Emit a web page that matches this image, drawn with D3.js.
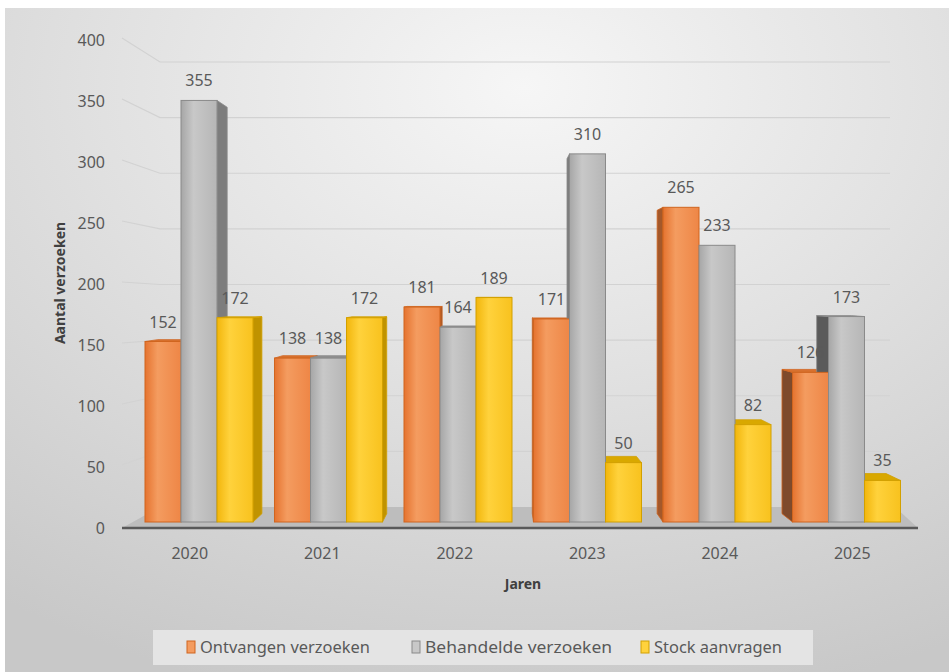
<!DOCTYPE html>
<html>
<head>
<meta charset="utf-8">
<script src="https://cdn.jsdelivr.net/npm/d3@7"></script>
<style>
  html, body { margin: 0; padding: 0; background: #fff; }
  svg { display: block; }
</style>
</head>
<body>
<svg id="area" width="949" height="672"></svg>
<script>
const years = ['2020', '2021', '2022', '2023', '2024', '2025'];
const seriesNames = ['Ontvangen verzoeken', 'Behandelde verzoeken', 'Stock aanvragen'];
const ontvangen = [152, 138, 181, 171, 265, 126];
const behandeld = [355, 138, 164, 310, 233, 173];
const stock = [172, 172, 189, 50, 82, 35];
const yTicks = [0, 50, 100, 150, 200, 250, 300, 350, 400];

const values = [ontvangen, behandeld, stock];

function drawChart() {
  const svg = d3.select('#area');
  const font = '"Noto Sans", "Open Sans", sans-serif';
  const textColor = '#595959';

  // scales: labels sit on the front edge, grid on the back wall, bars in between
  const yLabel = d3.scaleLinear([0, 400], [528, 40]);
  const yBack = d3.scaleLinear([0, 400], [507, 62]);
  const yBar = d3.scaleLinear([0, 400], [522, 47]);
  const x = d3.scaleBand(years, [134.25, 911.25]).paddingInner(0.166).paddingOuter(0.083);
  const xSub = d3.scaleBand(d3.range(3), [0, x.bandwidth()]);
  const xLabel = d3.scaleBand(years, [123.5, 918.5]);

  // perspective helper
  const vp = [500, 290];
  const depth = 0.036;
  const proj = (px, py) => [px + depth * (vp[0] - px), py + depth * (vp[1] - py)];

  const styles = [
    { stops: ['#E5732F', '#F49C60', '#EE8646'], stroke: '#D0651F', side: '#A4582A', sideFar: '#7E4A2C', top: '#D8712F' },
    { stops: ['#A6A6A6', '#C8C8C8', '#B6B6B6'], stroke: '#8A8A8A', side: '#7D7D7D', sideFar: '#5A5A5A', top: '#8F8F8F' },
    { stops: ['#F2B60C', '#FFD23C', '#F8C21E'], stroke: '#D2A000', side: '#C09300', sideFar: '#A88200', top: '#D9A800' },
  ];

  const defs = svg.append('defs');
  const bg = defs.append('radialGradient')
    .attr('id', 'bg')
    .attr('cx', '55%').attr('cy', '12%').attr('r', '95%');
  bg.append('stop').attr('offset', '0%').attr('stop-color', '#f6f6f6');
  bg.append('stop').attr('offset', '45%').attr('stop-color', '#e2e2e2');
  bg.append('stop').attr('offset', '100%').attr('stop-color', '#c8c8c8');

  styles.forEach((s, i) => {
    const g = defs.append('linearGradient').attr('id', `front${i}`);
    g.append('stop').attr('offset', '0%').attr('stop-color', s.stops[0]);
    g.append('stop').attr('offset', '35%').attr('stop-color', s.stops[1]);
    g.append('stop').attr('offset', '100%').attr('stop-color', s.stops[2]);
  });

  // background
  svg.append('rect')
    .attr('x', 5).attr('y', 8)
    .attr('width', 944).attr('height', 664)
    .attr('fill', 'url(#bg)');

  // floor
  const floorBack = yBack(0);
  const floorFront = yLabel(0);
  svg.append('path')
    .attr('d', d3.line()([[160, floorBack], [895, floorBack], [918, floorFront], [122, floorFront]]) + 'Z')
    .attr('fill', '#bdbdbd');
  svg.append('line')
    .attr('x1', 122).attr('x2', 918)
    .attr('y1', floorFront).attr('y2', floorFront)
    .attr('stroke', '#595959')
    .attr('stroke-width', 2.5);

  // grid
  svg.append('g')
    .attr('fill', 'none')
    .attr('stroke', '#d2d2d2')
    .attr('stroke-width', 1.2)
    .selectAll('path')
    .data(yTicks.filter((d) => d > 0))
    .join('path')
    .attr('d', (d) => d3.line()([[122, yLabel(d) - 2], [160, yBack(d)], [890, yBack(d)]]));

  // y tick labels
  svg.append('g').selectAll('text')
    .data(yTicks)
    .join('text')
    .attr('x', 105)
    .attr('y', (d) => yLabel(d))
    .attr('dy', '0.35em')
    .attr('text-anchor', 'end')
    .style('font', `16px ${font}`)
    .attr('fill', textColor)
    .text((d) => d);

  // bars
  const bars = [];
  years.forEach((yr, i) => {
    values.forEach((arr, s) => {
      const x0 = x(yr) + xSub(s);
      bars.push({ year: yr, s, v: arr[i], x0, x1: x0 + xSub.bandwidth(), yT: yBar(arr[i]), yB: yBar(0) });
    });
  });

  const backFaces = svg.append('g');
  bars.forEach((b) => {
    const st = styles[b.s];
    if (b.x1 < vp[0]) {
      backFaces.append('path')
        .attr('d', d3.line()([[b.x1, b.yT], proj(b.x1, b.yT), proj(b.x1, b.yB), [b.x1, b.yB]]) + 'Z')
        .attr('fill', st.side).attr('stroke', st.stroke).attr('stroke-width', 0.8);
    } else if (b.x0 > vp[0]) {
      backFaces.append('path')
        .attr('d', d3.line()([[b.x0, b.yT], proj(b.x0, b.yT), proj(b.x0, b.yB), [b.x0, b.yB]]) + 'Z')
        .attr('fill', b.x0 > 780 ? st.sideFar : st.side).attr('stroke', st.stroke).attr('stroke-width', 0.8);
    }
    if (b.yT > vp[1]) {
      backFaces.append('path')
        .attr('d', d3.line()([[b.x0, b.yT], [b.x1, b.yT], proj(b.x1, b.yT), proj(b.x0, b.yT)]) + 'Z')
        .attr('fill', st.top).attr('stroke', st.stroke).attr('stroke-width', 0.8);
    }
  });

  svg.append('g')
    .selectAll('rect')
    .data(bars)
    .join('rect')
    .attr('x', (d) => d.x0)
    .attr('y', (d) => d.yT)
    .attr('width', (d) => d.x1 - d.x0)
    .attr('height', (d) => d.yB - d.yT)
    .attr('fill', (d) => `url(#front${d.s})`)
    .attr('stroke', (d) => styles[d.s].stroke)
    .attr('stroke-width', 1);

  // value labels
  svg.append('g').selectAll('text')
    .data(bars)
    .join('text')
    .attr('x', (d) => (d.x0 + d.x1) / 2)
    .attr('y', (d) => d.yT - 14)
    .attr('text-anchor', 'middle')
    .style('font', `16px ${font}`)
    .attr('fill', textColor)
    .text((d) => d.v);

  // x labels
  svg.append('g').selectAll('text')
    .data(years)
    .join('text')
    .attr('x', (d) => xLabel(d) + xLabel.bandwidth() / 2)
    .attr('y', 559)
    .attr('text-anchor', 'middle')
    .style('font', `16px ${font}`)
    .attr('fill', textColor)
    .text((d) => d);

  // axis titles
  svg.append('text')
    .attr('x', 523)
    .attr('y', 589)
    .attr('text-anchor', 'middle')
    .style('font', `bold 14px ${font}`)
    .attr('fill', '#404040')
    .text('Jaren');

  svg.append('text')
    .attr('transform', 'translate(65,283) rotate(-90)')
    .attr('text-anchor', 'middle')
    .style('font', `bold 14px ${font}`)
    .attr('fill', '#404040')
    .text('Aantal verzoeken');

  // legend
  const legend = svg.append('g');
  legend.append('rect')
    .attr('x', 153).attr('y', 630)
    .attr('width', 660).attr('height', 35)
    .attr('fill', '#e4e4e4');

  const legendX = [187, 412, 641];
  const legendW = [170, 187, 128];
  const item = legend.selectAll('g')
    .data(seriesNames)
    .join('g')
    .attr('transform', (d, i) => `translate(${legendX[i]},0)`);
  item.append('rect')
    .attr('x', 0).attr('y', 641)
    .attr('width', 8).attr('height', 12)
    .attr('fill', (d, i) => styles[i].stops[1])
    .attr('stroke', (d, i) => styles[i].stroke);
  item.append('text')
    .attr('x', 13)
    .attr('y', 653)
    .attr('textLength', (d, i) => legendW[i])
    .attr('lengthAdjust', 'spacingAndGlyphs')
    .style('font', `17px ${font}`)
    .attr('fill', textColor)
    .text((d) => d);
}

drawChart();
</script>
</body>
</html>
